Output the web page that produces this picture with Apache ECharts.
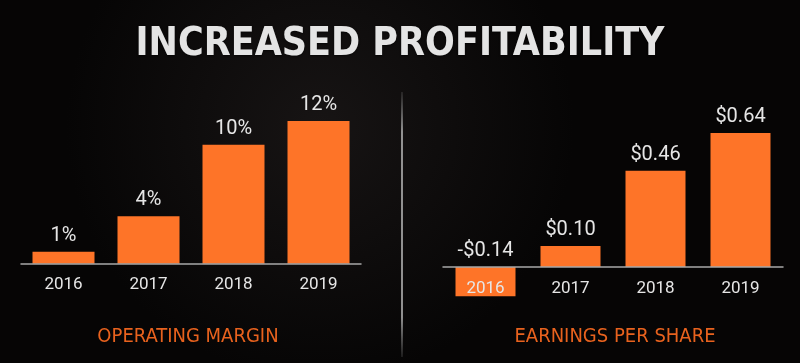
<!DOCTYPE html>
<html>
<head>
<meta charset="utf-8">
<style>
  html, body { margin: 0; padding: 0; background: #0a0909; }
  #chart { width: 800px; height: 363px; }
</style>
<script src="https://cdn.jsdelivr.net/npm/echarts@6/dist/echarts.min.js"></script>
</head>
<body>
<div id="chart"></div>
<script>
// ---- data ----
const years = ['2016', '2017', '2018', '2019'];
const operatingMargin = [1, 4, 10, 12];          // percent
const earningsPerShare = [-0.14, 0.10, 0.46, 0.64]; // dollars
const mainTitle = 'INCREASED PROFITABILITY';
const leftTitle = 'OPERATING MARGIN';
const rightTitle = 'EARNINGS PER SHARE';

const ORANGE = '#fe7428';
const LABEL_ORANGE = '#e8621e';
const TEXT = '#e6e6e6';
const NUMFONT = 'Roboto, "Open Sans", sans-serif';
const NARROW = '"Liberation Sans Narrow", "DejaVu Sans Condensed", sans-serif';

const chart = echarts.init(document.getElementById('chart'), null, { renderer: 'canvas' });

function xAxisCfg(gridIndex, margin) {
  return {
    type: 'category', gridIndex: gridIndex, data: years, z: 5,
    axisLine: { show: true, onZero: true, lineStyle: { color: '#a8a8a8', width: 1.5 } },
    axisTick: { show: false },
    axisLabel: { color: TEXT, fontFamily: NUMFONT, fontSize: 17, margin: margin }
  };
}
function yAxisCfg(gridIndex, min, max) {
  return {
    type: 'value', gridIndex: gridIndex, min: min, max: max,
    axisLine: { show: false }, axisTick: { show: false },
    axisLabel: { show: false }, splitLine: { show: false }
  };
}

const option = {
  backgroundColor: {
    type: 'radial', x: 0.4, y: 0.35, r: 0.7,
    colorStops: [{ offset: 0, color: '#171414' }, { offset: 1, color: '#060505' }]
  },
  animation: false,
  grid: [
    { left: 21, width: 340, top: 121, height: 142.7 },
    { left: 443, width: 340, top: 133, height: 163.3 }
  ],
  xAxis: [xAxisCfg(0, 13), xAxisCfg(1, -16)],
  yAxis: [yAxisCfg(0, 0, 12), yAxisCfg(1, -0.14, 0.64)],
  series: [
    {
      type: 'bar', xAxisIndex: 0, yAxisIndex: 0, data: operatingMargin,
      barWidth: 62, itemStyle: { color: ORANGE },
      label: {
        show: true, position: 'top', distance: 6, color: TEXT,
        fontFamily: NUMFONT, fontSize: 20,
        formatter: p => p.value + '%'
      }
    },
    {
      type: 'bar', xAxisIndex: 1, yAxisIndex: 1, data: earningsPerShare,
      barWidth: 60, itemStyle: { color: ORANGE },
      label: {
        show: true, position: 'top', distance: 6, color: TEXT,
        fontFamily: NUMFONT, fontSize: 20,
        formatter: p => (p.value < 0 ? '-$' : '$') + Math.abs(p.value).toFixed(2)
      }
    }
  ],
  graphic: [
    {
      type: 'text', x: 400, y: 45,
      style: {
        text: mainTitle, fontFamily: NARROW, fontWeight: 'bold', fontSize: 39,
        align: 'center', verticalAlign: 'middle',
        fill: '#e4e4e4',
        textShadowColor: 'rgba(0,0,0,0.6)', textShadowBlur: 2, textShadowOffsetY: 1
      }
    },
    {
      type: 'text', x: 188, y: 337,
      style: {
        text: leftTitle, fontFamily: NARROW, fontSize: 20, fill: LABEL_ORANGE,
        align: 'center', verticalAlign: 'middle'
      }
    },
    {
      type: 'text', x: 615, y: 337,
      style: {
        text: rightTitle, fontFamily: NARROW, fontSize: 20, fill: LABEL_ORANGE,
        align: 'center', verticalAlign: 'middle'
      }
    },
    {
      type: 'line',
      shape: { x1: 402, y1: 92, x2: 402, y2: 357 },
      style: {
        lineWidth: 1.5,
        stroke: {
          type: 'linear', x: 0, y: 92, x2: 0, y2: 357, global: true,
          colorStops: [
            { offset: 0, color: 'rgba(160,160,160,0.2)' },
            { offset: 0.15, color: '#bdbdbd' },
            { offset: 0.85, color: '#bdbdbd' },
            { offset: 1, color: 'rgba(160,160,160,0.2)' }
          ]
        }
      }
    }
  ]
};
chart.setOption(option);
</script>
</body>
</html>
